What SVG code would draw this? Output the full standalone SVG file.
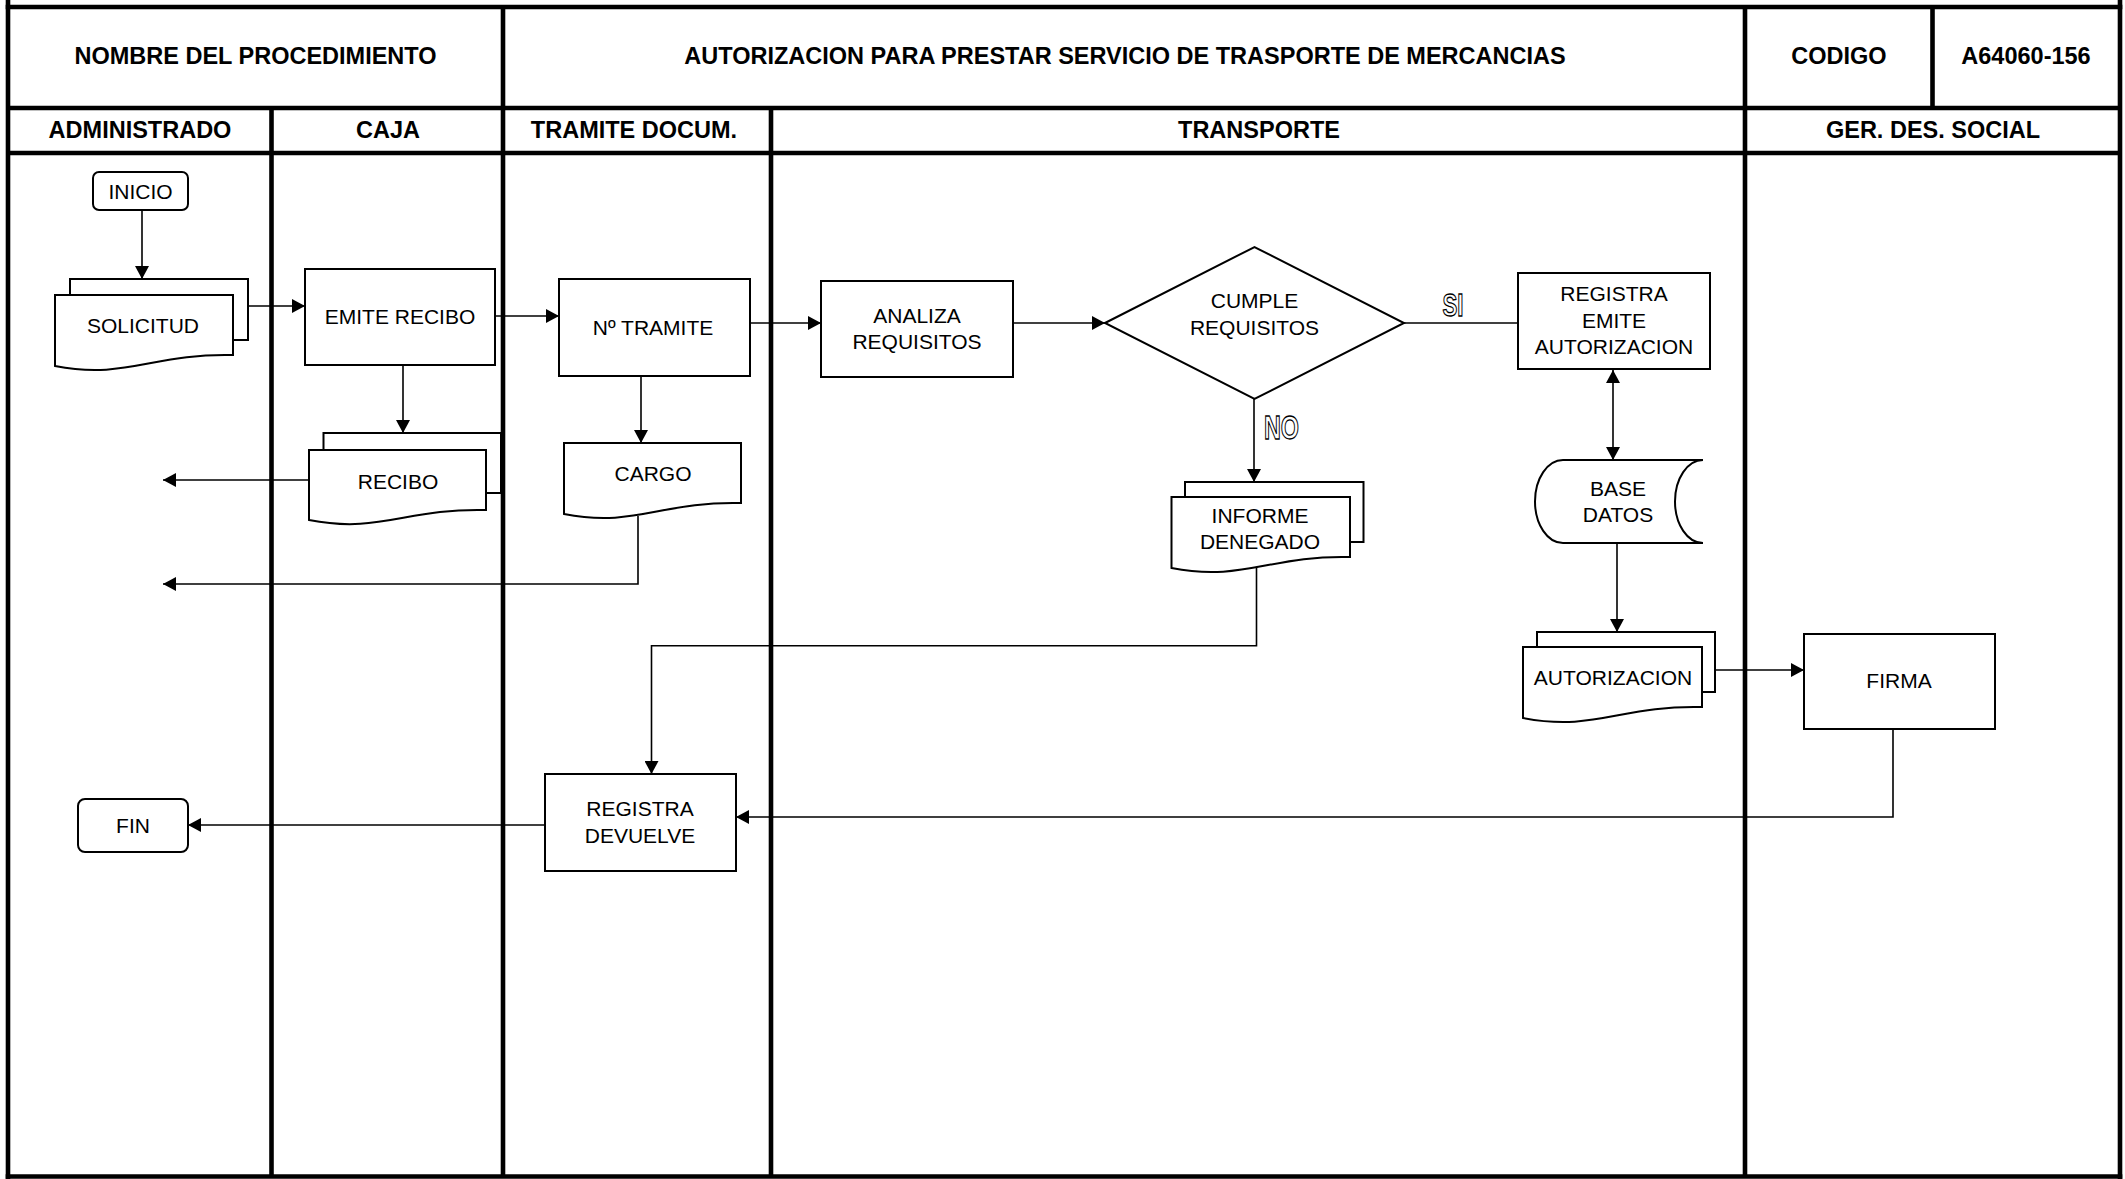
<svg xmlns="http://www.w3.org/2000/svg" width="2125" height="1179" viewBox="0 0 2125 1179">
<defs>
<style>
.frame{stroke:#000;stroke-width:4.6;fill:none}
.hdr{font-family:"Liberation Sans",Arial,sans-serif;font-weight:bold;font-size:23.5px;text-anchor:middle;fill:#000}
.box{fill:#fff;stroke:#000;stroke-width:2}
.lbl{font-family:"Liberation Sans",Arial,sans-serif;font-size:21px;text-anchor:middle;fill:#000}
.con{fill:none;stroke:#000;stroke-width:1.6}
.out{font-family:"Liberation Sans",Arial,sans-serif;font-weight:bold;fill:#fff;stroke:#000;stroke-width:1.3}
</style>
<marker id="ah" markerUnits="userSpaceOnUse" markerWidth="14" markerHeight="14" refX="13" refY="7" orient="auto" viewBox="0 0 14 14">
<path d="M0,0 L13,7 L0,14 Z" fill="#000"/>
</marker>
<marker id="ahs" markerUnits="userSpaceOnUse" markerWidth="14" markerHeight="14" refX="13" refY="7" orient="auto-start-reverse" viewBox="0 0 14 14">
<path d="M0,0 L13,7 L0,14 Z" fill="#000"/>
</marker>
</defs>
<rect width="2125" height="1179" fill="#fff"/>

<g id="frame">
<line class="frame" x1="5.7" y1="7" x2="2122.3" y2="7"/>
<line class="frame" x1="8" y1="0" x2="8" y2="1179"/>
<line class="frame" x1="2120" y1="0" x2="2120" y2="1179"/>
<line class="frame" x1="5.7" y1="1176.5" x2="2122.3" y2="1176.5"/>
<line class="frame" x1="8" y1="108" x2="2120" y2="108"/>
<line class="frame" x1="8" y1="153" x2="2120" y2="153"/>
<line class="frame" x1="503" y1="7" x2="503" y2="1176.5"/>
<line class="frame" x1="1745" y1="7" x2="1745" y2="1176.5"/>
<line class="frame" x1="1932.5" y1="7" x2="1932.5" y2="108"/>
<line class="frame" x1="271.5" y1="108" x2="271.5" y2="1176.5"/>
<line class="frame" x1="771" y1="108" x2="771" y2="1176.5"/>
<text class="hdr" x="255.5" y="64">NOMBRE DEL PROCEDIMIENTO</text>
<text class="hdr" x="1125" y="64">AUTORIZACION PARA PRESTAR SERVICIO DE TRASPORTE DE MERCANCIAS</text>
<text class="hdr" x="1839" y="64">CODIGO</text>
<text class="hdr" x="2026" y="64">A64060-156</text>
<text class="hdr" x="140" y="138">ADMINISTRADO</text>
<text class="hdr" x="388" y="138">CAJA</text>
<text class="hdr" x="634" y="138">TRAMITE DOCUM.</text>
<text class="hdr" x="1259" y="138">TRANSPORTE</text>
<text class="hdr" x="1933" y="138">GER. DES. SOCIAL</text>
</g>

<g id="connectors">
<path class="con" d="M142,210 V279" marker-end="url(#ah)"/>
<path class="con" d="M248,306 H305" marker-end="url(#ah)"/>
<path class="con" d="M495,316 H559" marker-end="url(#ah)"/>
<path class="con" d="M750,323 H821" marker-end="url(#ah)"/>
<path class="con" d="M1013,323 H1105" marker-end="url(#ah)"/>
<path class="con" d="M1404,323 H1518"/>
<path class="con" d="M1254,399 V482" marker-end="url(#ah)"/>
<path class="con" d="M1613,370 V460" marker-start="url(#ahs)" marker-end="url(#ahs)"/>
<path class="con" d="M1617,543 V632" marker-end="url(#ah)"/>
<path class="con" d="M1702,670 H1804" marker-end="url(#ah)"/>
<path class="con" d="M1893,729 V817 H736" marker-end="url(#ah)"/>
<path class="con" d="M1256.5,567 V645.7 H651.5 V774" marker-end="url(#ah)"/>
<path class="con" d="M545,825 H188" marker-end="url(#ah)"/>
<path class="con" d="M403,365 V433" marker-end="url(#ah)"/>
<path class="con" d="M309,480 H163" marker-end="url(#ah)"/>
<path class="con" d="M641,376 V443" marker-end="url(#ah)"/>
<path class="con" d="M638,516 V584 H163" marker-end="url(#ah)"/>
<text class="out" x="1442.5" y="316" font-size="32" textLength="21" lengthAdjust="spacingAndGlyphs">SI</text>
<text class="out" x="1264" y="439" font-size="34" textLength="35" lengthAdjust="spacingAndGlyphs">NO</text>
</g>

<g id="inicio">
<rect class="box" x="93" y="172" width="95" height="38" rx="6"/>
<text class="lbl" x="140.5" y="198.5">INICIO</text>
</g>

<g id="solicitud">
<rect class="box" x="70" y="279" width="178" height="61"/>
<path class="box" d="M55,295 H233 V355 C153,353 126,380 55,366 Z"/>
<text class="lbl" x="143" y="333">SOLICITUD</text>
</g>

<g id="emite-recibo">
<rect class="box" x="305" y="269" width="190" height="96"/>
<text class="lbl" x="400" y="323.5">EMITE RECIBO</text>
</g>

<g id="recibo">
<rect class="box" x="323.5" y="433" width="177.5" height="60"/>
<path class="box" d="M309,450 H486 V510 C406,508 380,534 309,520 Z"/>
<text class="lbl" x="398" y="488.5">RECIBO</text>
</g>

<g id="tramite">
<rect class="box" x="559" y="279" width="191" height="97"/>
<text class="lbl" x="653" y="334.5">Nº TRAMITE</text>
</g>

<g id="cargo">
<path class="box" d="M564,443 H741 V503 C661,501 635,528 564,514 Z"/>
<text class="lbl" x="653" y="480.5">CARGO</text>
</g>

<g id="analiza">
<rect class="box" x="821" y="281" width="192" height="96"/>
<text class="lbl" x="917" y="322.5">ANALIZA</text>
<text class="lbl" x="917" y="348.5">REQUISITOS</text>
</g>

<g id="cumple">
<path class="box" d="M1105,323 L1254.5,247 L1404,323 L1254.5,399 Z"/>
<text class="lbl" x="1254.5" y="307.5">CUMPLE</text>
<text class="lbl" x="1254.5" y="334.5">REQUISITOS</text>
</g>

<g id="informe">
<rect class="box" x="1185" y="482" width="178.5" height="60"/>
<path class="box" d="M1171.5,497 H1350 V557 C1270,555 1243,582 1171.5,568 Z"/>
<text class="lbl" x="1260" y="522.5">INFORME</text>
<text class="lbl" x="1260" y="549">DENEGADO</text>
</g>

<g id="registra-emite">
<rect class="box" x="1518" y="273" width="192" height="96"/>
<text class="lbl" x="1614" y="300.5">REGISTRA</text>
<text class="lbl" x="1614" y="327.5">EMITE</text>
<text class="lbl" x="1614" y="353.5">AUTORIZACION</text>
</g>

<g id="base-datos">
<path class="box" d="M1563,460 H1703 A28,41.5 0 0 0 1703,543 H1563 A28,41.5 0 0 1 1563,460 Z"/>
<text class="lbl" x="1618" y="495.5">BASE</text>
<text class="lbl" x="1618" y="522">DATOS</text>
</g>

<g id="autorizacion">
<rect class="box" x="1537" y="632" width="178" height="60"/>
<path class="box" d="M1523,647 H1702 V707 C1621,705 1595,732 1523,718 Z"/>
<text class="lbl" x="1613" y="684.5">AUTORIZACION</text>
</g>

<g id="firma">
<rect class="box" x="1804" y="634" width="191" height="95"/>
<text class="lbl" x="1899" y="688">FIRMA</text>
</g>

<g id="registra-devuelve">
<rect class="box" x="545" y="774" width="191" height="97"/>
<text class="lbl" x="640" y="815.5">REGISTRA</text>
<text class="lbl" x="640" y="842.5">DEVUELVE</text>
</g>

<g id="fin">
<rect class="box" x="78" y="799" width="110" height="53" rx="7"/>
<text class="lbl" x="133" y="832.5">FIN</text>
</g>
</svg>
